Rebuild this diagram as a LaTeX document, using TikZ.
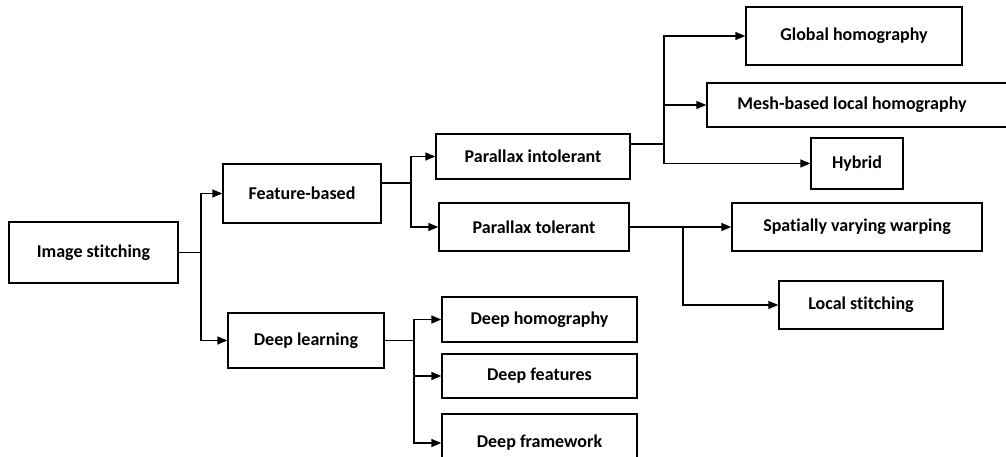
\documentclass[tikz,border=0pt]{standalone}
\usepackage{fontspec}
\setmainfont{Carlito}[Ligatures=NoCommon]
\usepackage{tikz}
\usetikzlibrary{arrows.meta}
\tikzstyle{branch} = [rectangle, draw=black, line width=1.4pt, text centered, inner sep=0pt, font=\bfseries\fontsize{18}{21}\selectfont]
\tikzstyle{link} = [line width=1.4pt]
\tikzstyle{arrow} = [line width=1.4pt, -{Triangle[length=10pt, width=8pt]}]

\begin{document}
\begin{tikzpicture}[x=1pt, y=-1pt]
    \clip (0,0) rectangle (1006,457);
    % level 0 and 1
    \node (img) [branch, minimum width=169pt, minimum height=61pt] at (93.5,252.5) {Image stitching};
    \node (feat) [branch, minimum width=158pt, minimum height=59pt] at (302,193.5) {Feature-based};
    \node (deep) [branch, minimum width=156pt, minimum height=55pt] at (306,340.5) {Deep learning};

    % level 2
    \node (pint) [branch, minimum width=194pt, minimum height=45pt] at (533,156.5) {Parallax intolerant};
    \node (ptol) [branch, minimum width=190pt, minimum height=48pt] at (534,227) {Parallax tolerant};
    \node (dhom) [branch, minimum width=195pt, minimum height=45pt] at (539.5,319.5) {Deep homography};
    \node (dfeat) [branch, minimum width=195pt, minimum height=44pt] at (539.5,376) {Deep features};
    \node (dfrm) [branch, minimum width=195pt, minimum height=58pt] at (539.5,443) {Deep framework};

    % level 3
    \node (glob) [branch, minimum width=216pt, minimum height=58pt] at (854,36) {Global homography};
    \node (mesh) [branch, minimum width=305pt, minimum height=44pt] at (859.5,105) {Mesh-based local homography\hspace*{15pt}};
    \node (hyb) [branch, minimum width=92pt, minimum height=51pt] at (857,163.5) {Hybrid};
    \node (spat) [branch, minimum width=250pt, minimum height=48pt] at (857,227) {Spatially varying warping};
    \node (loc) [branch, minimum width=164pt, minimum height=48pt] at (861,305) {Local stitching};

    % junctions
    \coordinate (j0) at (201,252.5);
    \coordinate (j1) at (411,183);
    \coordinate (j2) at (414,340.5);
    \coordinate (j3) at (664,144);
    \coordinate (j4) at (683,227);

    \draw [link] (img) -- (j0);
    \draw [arrow] (j0) |- (feat);
    \draw [arrow] (j0) |- (deep);

    \draw [link] (feat.east |- j1) -- (j1);
    \draw [arrow] (j1) |- (pint);
    \draw [arrow] (j1) |- (ptol);

    \draw [link] (deep) -- (j2);
    \draw [arrow] (j2) |- (dhom);
    \draw [arrow] (j2) |- (dfeat);
    \draw [arrow] (j2) |- (dfrm);

    \draw [link] (pint.east |- j3) -- (j3);
    \draw [arrow] (j3) |- (glob);
    \draw [arrow] (j3) |- (mesh);
    \draw [arrow] (j3) |- (hyb);

    \draw [arrow] (ptol) -- (spat);
    \draw [arrow] (j4) |- (loc);
\end{tikzpicture}
\end{document}
